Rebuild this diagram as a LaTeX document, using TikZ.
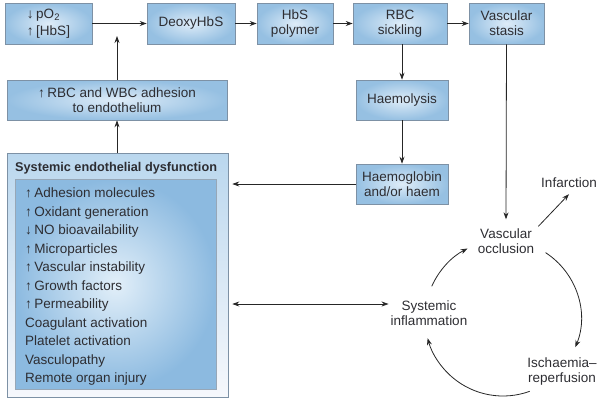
\documentclass[tikz,border=0pt]{standalone}
\usepackage{fontspec}
\setmainfont{Liberation Sans}
\usetikzlibrary{arrows.meta,calc}
\definecolor{boxin}{RGB}{222,236,248}
\definecolor{boxout}{RGB}{150,192,226}
\definecolor{boxline}{RGB}{125,145,165}
\definecolor{txt}{RGB}{45,45,50}
\definecolor{outtop}{RGB}{186,215,238}
\definecolor{outbot}{RGB}{246,248,252}
\definecolor{innin}{RGB}{226,239,249}
\definecolor{innout}{RGB}{140,186,224}
\newcommand\upa{↑\hspace{2.5pt}}
\newcommand\dna{↓\hspace{2.5pt}}
\newcommand\fs{\fontsize{13.5}{15}\selectfont}
\begin{document}
\begin{tikzpicture}[x=1pt,y=-1pt,
  >={Stealth[length=7pt,width=5pt]},
  box/.style={draw=boxline, line width=0.6pt, inner color=boxin, outer color=boxout,
    align=center, font=\fs, text=txt, inner sep=0pt},
  lbl/.style={align=center, font=\fs, text=txt, inner sep=2pt},
  arr/.style={->, line width=0.8pt, draw=black!85},
  darr/.style={<->, line width=0.8pt, draw=black!85}]
\useasboundingbox (0,0) rectangle (601,402);
% top row
\node[box, minimum width=87pt, minimum height=41pt, align=left] (p) at (48.5,23.5)
  {\dna pO\textsubscript{2}\\[2pt]\upa [HbS]};
\node[box, minimum width=88pt, minimum height=41pt] (deoxy) at (191,23.5) {DeoxyHbS};
\node[box, minimum width=76pt, minimum height=41pt] (hbs) at (295,23.5) {HbS\\polymer};
\node[box, minimum width=94pt, minimum height=41pt] (rbc) at (400,23.5) {RBC\\sickling};
\node[box, minimum width=75pt, minimum height=41pt] (vs) at (506.5,23.5) {Vascular\\stasis};
% middle column
\node[box, minimum width=92pt, minimum height=40pt] (haemo) at (402,100) {Haemolysis};
\node[box, minimum width=92pt, minimum height=40pt] (hb) at (402,184) {Haemoglobin\\and/or haem};
\node[box, minimum width=220pt, minimum height=40pt] (adh) at (117,100)
  {\upa RBC and WBC adhesion\\to endothelium};
% endothelial dysfunction
\node[draw=boxline, line width=0.6pt, top color=outtop, bottom color=outbot,
  minimum width=221pt, minimum height=244pt, inner sep=0pt] (sed) at (117.5,275) {};
\node[draw=boxline!80, line width=0.5pt, inner color=innin, outer color=innout,
  minimum width=201pt, minimum height=210pt, inner sep=0pt] (sedin) at (115.5,284) {};
\node[anchor=base west, font=\fontsize{12.7}{15}\selectfont\bfseries, text=txt, inner sep=0pt] (sedt) at (15,171.5)
  {Systemic endothelial dysfunction};
\foreach \t [count=\i] in {\upa Adhesion molecules, \upa Oxidant generation,
  \dna NO bioavailability, \upa Microparticles, \upa Vascular instability,
  \upa Growth factors, \upa Permeability, Coagulant activation,
  Platelet activation, Vasculopathy, Remote organ injury}
  \node[anchor=base west, font=\fs, text=txt, inner sep=0pt] (l\i) at (25,{197.5+18.5*(\i-1)}) {\t};
% cycle labels
\node[lbl] (occ) at (506,241) {Vascular\\occlusion};
\node[lbl] (infl) at (429,313) {Systemic\\inflammation};
\node[lbl] (isch) at (562,372) {Ischaemia–\\reperfusion};
\node[lbl] (inf) at (569,183) {Infarction};
\coordinate (cc) at (503,318);
\coordinate (pin) at (117,36);
% connectors
\draw[arr] (p.east) -- (deoxy.west);
\draw[arr] (deoxy.east) -- (hbs.west);
\draw[arr] (hbs.east) -- (rbc.west);
\draw[arr] (rbc.east) -- (vs.west);
\draw[arr] (haemo.north |- rbc.south) -- (haemo.north);
\draw[arr] (haemo.south) -- (hb.north);
\draw[arr, shorten >=4pt] (hb.west) -- (hb.west -| sed.east);
\draw[arr] (sed.north -| adh.south) -- (adh.south);
\draw[arr] (adh.north) -- (pin);
\draw[arr] (vs.south) -- ([yshift=7pt]occ.north);
\draw[arr] ([xshift=2pt]occ.north east) -- ([yshift=-4pt]inf.south);
\coordinate (ia) at ([yshift=9pt]infl.west);
\draw[darr, shorten <=4pt] (ia -| sed.east) -- (ia);
\draw[arr] ([shift={(156:78pt)}]cc) arc[start angle=156, end angle=117, radius=78pt];
\draw[arr] ([shift={(57:78pt)}]cc) arc[start angle=57, end angle=-22, radius=78pt];
\draw[arr] ([shift={(-70:78pt)}]cc) arc[start angle=-70, end angle=-165, radius=78pt];
\end{tikzpicture}
\end{document}
